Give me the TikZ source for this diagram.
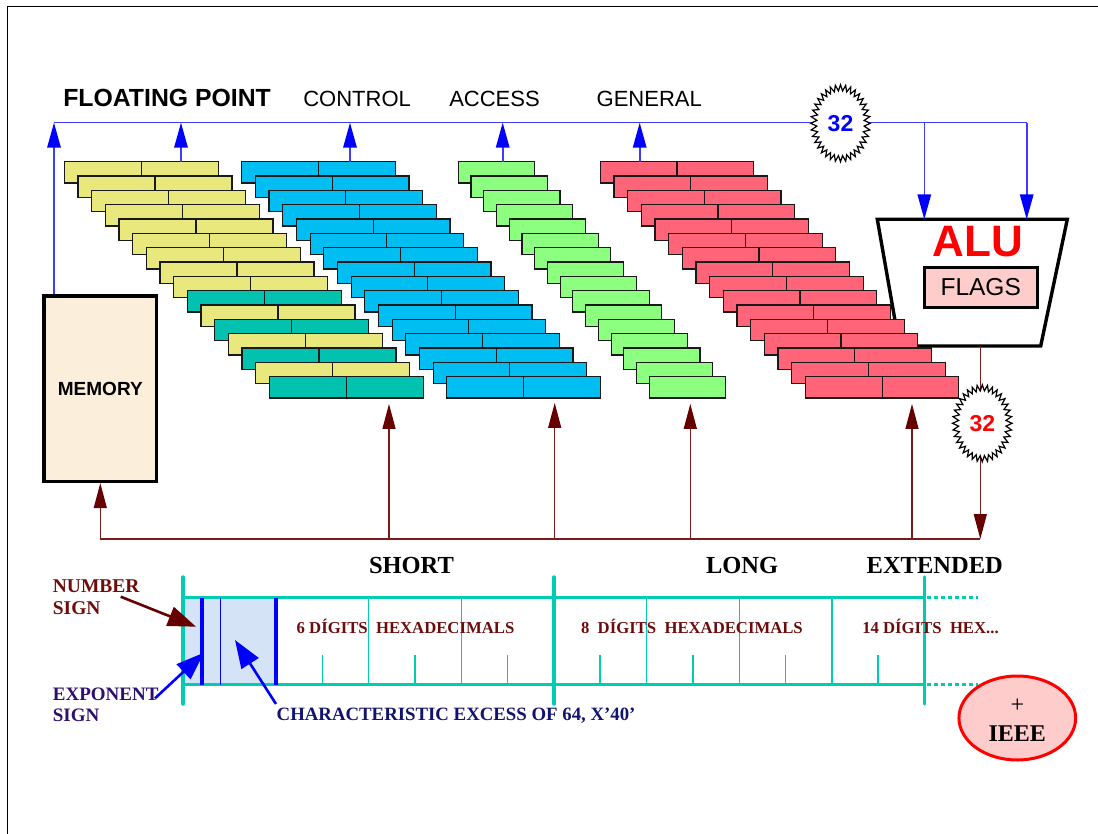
\documentclass[tikz,border=0pt]{standalone}
\usepackage{fontspec}
\setmainfont{Liberation Serif}
\setsansfont{Liberation Sans}
\usetikzlibrary{arrows.meta,shapes.geometric}

\definecolor{fpyellow}{HTML}{E8E87C}
\definecolor{fpteal}{HTML}{00C2AE}
\definecolor{ctlblue}{HTML}{00BEF2}
\definecolor{accgreen}{HTML}{8CFF80}
\definecolor{genred}{HTML}{FF6478}
\definecolor{busblue}{HTML}{3C3CFF}
\definecolor{headblue}{HTML}{0000FF}
\definecolor{busmaroon}{HTML}{7A1A1A}
\definecolor{headmaroon}{HTML}{660000}
\definecolor{barteal}{HTML}{00CCB2}
\definecolor{labred}{HTML}{6E0C0C}
\definecolor{labindigo}{HTML}{2E0E70}
\definecolor{labnavy}{HTML}{121270}
\definecolor{memfill}{HTML}{FBEFDB}
\definecolor{signfill}{HTML}{D5E3F6}
\definecolor{pinkfill}{HTML}{FFCCCC}

\tikzset{
  brick/.style={draw=black!90, line width=1.1pt, minimum width=#1, minimum height=21.3pt,
                inner sep=0pt, outer sep=0pt, anchor=north west},
  busline/.style={draw=busblue, line width=1.6pt},
  busarrow/.style={busline, -{Triangle[length=25pt,width=13.5pt,color=headblue]}},
  mline/.style={draw=busmaroon, line width=1.3pt},
  marrow/.style={mline, -{Triangle[length=25pt,width=13pt,color=headmaroon]}},
  pointer/.style={line width=2.6pt, -{Triangle[length=28pt,width=20pt]}},
  burstline/.style={draw=black, line width=1.2pt, fill=white, line join=miter},
  lbl/.style={inner sep=0pt, outer sep=0pt, anchor=base west},
  headsans/.style={font=\sffamily\fontsize{22}{22}\selectfont},
  sizelbl/.style={lbl, font=\rmfamily\bfseries\fontsize{24.5}{24.5}\selectfont},
  digitlbl/.style={lbl, text=labred, font=\rmfamily\bfseries\fontsize{16.7}{16.7}\selectfont},
  barthick/.style={draw=barteal, line width=3.5pt},
  barthin/.style={draw=barteal, line width=1.3pt},
}

\begin{document}
\begin{tikzpicture}[x=1pt,y=-1pt]
\useasboundingbox (0,0) rectangle (1098,834);

% page frame
\draw[line width=1.2pt] (7.5,834) -- (7.5,6.5) -- (1098,6.5);

% register groups
\node[lbl, font=\sffamily\bfseries\fontsize{24.8}{24.8}\selectfont] (tFP) at (63.3,106.7) {FLOATING POINT};
\node[lbl, headsans] (tCT) at (303.3,106.7) {CONTROL};
\node[lbl, headsans] (tAC) at (449.3,106.7) {ACCESS};
\node[lbl, headsans] (tGN) at (596.7,106.7) {GENERAL};

% ALU outline (the general registers overlap its lower left edge)
\coordinate (aluTL) at (877.3,219.3);
\coordinate (aluTR) at (1067.3,219.3);
\coordinate (aluBR) at (1040.7,346);
\coordinate (aluBL) at (899.5,346);
\draw[line width=3.4pt, line join=miter, fill=white] (aluTL) -- (aluTR) -- (aluBR) -- (aluBL) -- cycle;
\node[inner sep=0pt, anchor=base, text=red, font=\sffamily\bfseries\fontsize{44}{44}\selectfont] (alutxt) at (977.9,256.7) {ALU};
\node[draw, line width=3pt, fill=pinkfill, minimum width=113.3pt, minimum height=40.4pt, inner sep=0pt,
      font=\sffamily\fontsize{24.5}{24.5}\selectfont] (flags) at (980.7,287.5) {FLAGS};

% floating point registers (yellow, with teal rows at the bottom)
\foreach \i in {0,...,15}{
  \pgfmathsetmacro\bx{64.3+13.67*\i}
  \pgfmathsetmacro\by{161.7+14.33*\i}
  \pgfmathtruncatemacro\isteal{and(\i>8, mod(\i,2)==1)}
  \ifnum\isteal=1 \def\bcol{fpteal}\else\def\bcol{fpyellow}\fi
  \node[brick=77pt, fill=\bcol] (fpa\i) at (\bx,\by) {};
  \node[brick=77pt, fill=\bcol] (fpb\i) at (\bx+77,\by) {};
}
% control registers
\foreach \i in {0,...,15}{
  \pgfmathsetmacro\bx{241.7+13.67*\i}
  \pgfmathsetmacro\by{161.7+14.33*\i}
  \node[brick=76.8pt, fill=ctlblue] (cta\i) at (\bx,\by) {};
  \node[brick=76.8pt, fill=ctlblue] (ctb\i) at (\bx+76.8,\by) {};
}
% access registers
\foreach \i in {0,...,15}{
  \pgfmathsetmacro\bx{458.3+12.73*\i}
  \pgfmathsetmacro\by{161.7+14.33*\i}
  \node[brick=76.2pt, fill=accgreen] (acc\i) at (\bx,\by) {};
}
% general registers
\foreach \i in {0,...,15}{
  \pgfmathsetmacro\bx{600.3+13.67*\i}
  \pgfmathsetmacro\by{161.7+14.33*\i}
  \node[brick=76.7pt, fill=genred] (gna\i) at (\bx,\by) {};
  \node[brick=76.7pt, fill=genred] (gnb\i) at (\bx+76.7,\by) {};
}

% memory
\node[draw, line width=3.6pt, fill=memfill, minimum width=112.7pt, minimum height=185.3pt,
      inner sep=0pt, font=\sffamily\bfseries\fontsize{19}{19}\selectfont] (memory) at (100.3,388.7) {MEMORY};

% upper (blue) bus
\coordinate (busL) at (54,122.7);
\coordinate (busR) at (1026.7,122.7);
\coordinate (busA) at (924.3,122.7);
\coordinate (busFP) at (181,122.7);
\coordinate (busCT) at (350,122.7);
\coordinate (busAC) at (502.7,122.7);
\coordinate (busGN) at (639.7,122.7);
\draw[busline] (busL) -- (busR);
\draw[busarrow] (memory.north -| busL) -- (busL);
\draw[busarrow] (fpb0.north -| busFP) -- (busFP);
\draw[busarrow] (ctb0.north -| busCT) -- (busCT);
\draw[busarrow] (acc0.north -| busAC) -- (busAC);
\draw[busarrow] (gna0.north -| busGN) -- (busGN);
\draw[busarrow] (busA) -- (busA |- aluTL);
\draw[busarrow] (busR) -- (busR |- aluTR);

% lower (maroon) bus
\coordinate (mbL) at (100.3,539);
\coordinate (mbR) at (980.3,539);
\coordinate (mFP) at (389,539);
\coordinate (mCT) at (554.7,539);
\coordinate (mAC) at (690.3,539);
\coordinate (mGN) at (912,539);
\draw[mline] (mbL) -- (mbR);
\draw[marrow] (mbL) -- (memory.south);
\draw[marrow, shorten >=6pt] (mFP) -- (fpb15.south -| mFP);
\draw[marrow, shorten >=5pt] (mCT) -- (ctb15.south -| mCT);
\draw[marrow, shorten >=6pt] (mAC) -- (acc15.south -| mAC);
\draw[marrow, shorten >=6pt] (mGN) -- (gnb15.south -| mGN);
\draw[marrow] (aluBL -| mbR) -- (mbR);

% 32-bit bursts
\coordinate (burst1c) at (840.5,123.3);
\coordinate (burst2c) at (982.3,423.3);
\foreach \c in {burst1c,burst2c}{
  \begin{scope}[shift={(\c)}]
    \draw[burstline] plot[domain=0:72, samples=73, variable=\k]
      ({(26.75+3*cos(180*\k))*cos(5*\k)}, {(35.5+3*cos(180*\k))*sin(5*\k)}) -- cycle;
  \end{scope}
}
\node[inner sep=0pt, text=headblue, font=\sffamily\bfseries\fontsize{23}{23}\selectfont] (burst1) at (burst1c) {32};
\node[inner sep=0pt, text=red, font=\sffamily\bfseries\fontsize{23}{23}\selectfont] (burst2) at (burst2c) {32};

% data format bar
\fill[signfill] (183,597.5) rectangle (276,684.7);
\foreach \x in {368.7,461.2,646.8,739.3,832}
  \draw[barthin] (\x,597.5) -- (\x,684.7);
\foreach \x in {322.3,415,507.6,600,693,785.6,878}
  \draw[barthin] (\x,655) -- (\x,684.7);
\draw[barthick] (183,597.5) -- (924.3,597.5);
\draw[barthick] (183,684.7) -- (924.3,684.7);
\draw[draw=barteal, line width=3pt, dash pattern=on 4pt off 3pt] (927,597.5) -- (978.3,597.5);
\draw[draw=barteal, line width=3pt, dash pattern=on 4pt off 3pt] (927,684.7) -- (978.3,684.7);
\foreach \x in {183,554,924.3}
  \draw[barthick, line cap=round] (\x,577) -- (\x,704);
\draw[headblue, line width=3.3pt] (202,597.5) -- (202,684.7);
\draw[headblue, line width=1.5pt] (220.3,597.5) -- (220.3,684.7);
\draw[headblue, line width=3.3pt] (276,597.5) -- (276,684.7);

% format sizes
\node[sizelbl] (tShort) at (369,573.3) {SHORT};
\node[sizelbl] (tLong) at (706,573.3) {LONG};
\node[sizelbl] (tExt) at (866.7,573.3) {EXTENDED};

\node[digitlbl] (d6) at (296.7,633.3) {6 DÍGITS\ \ HEXADECIMALS};
\node[digitlbl] (d8) at (581,633.3) {8\ \ DÍGITS\ \ HEXADECIMALS};
\node[digitlbl] (d14) at (862.3,633) {14 DÍGITS\ \ HEX...};

% field labels and pointers
\node[inner sep=0pt, anchor=north west, align=left, text=labred,
      font=\rmfamily\bfseries\fontsize{19.5}{21.7}\selectfont] (numsign) at (52.7,579.4) {NUMBER\\SIGN};
\node[inner sep=0pt, anchor=north west, align=left, text=labindigo,
      font=\rmfamily\bfseries\fontsize{19}{21.7}\selectfont] (expsign) at (52.7,687.4) {EXPONENT\\SIGN};
\node[lbl, text=labnavy, font=\rmfamily\bfseries\fontsize{18.8}{18.8}\selectfont] (charx) at (276.7,720) {CHARACTERISTIC EXCESS OF 64, X’40’};

\coordinate (nsFrom) at (120.7,596.7);
\coordinate (nsTo) at (196,626.7);
\coordinate (esFrom) at (155,698.3);
\coordinate (esTo) at (204,652.7);
\coordinate (chFrom) at (276,704);
\coordinate (chTo) at (235,640);
\draw[pointer, draw=headmaroon, -{Triangle[length=28pt,width=20pt,color=headmaroon]}] (nsFrom) -- (nsTo);
\draw[pointer, draw=headblue, -{Triangle[length=28pt,width=20pt,color=headblue]}] (esFrom) -- (esTo);
\draw[pointer, draw=headblue, -{Triangle[length=28pt,width=20pt,color=headblue]}] (chFrom) -- (chTo);

% IEEE note
\node[ellipse, draw=red, line width=3pt, fill=pinkfill, minimum width=116.7pt, minimum height=84pt,
      inner sep=0pt, align=center, font=\rmfamily\bfseries\fontsize{24}{29}\selectfont]
      (ieee) at (1017.3,718) {{\mdseries +}\rule{0pt}{18.5pt}\\IEEE};
\end{tikzpicture}
\end{document}
